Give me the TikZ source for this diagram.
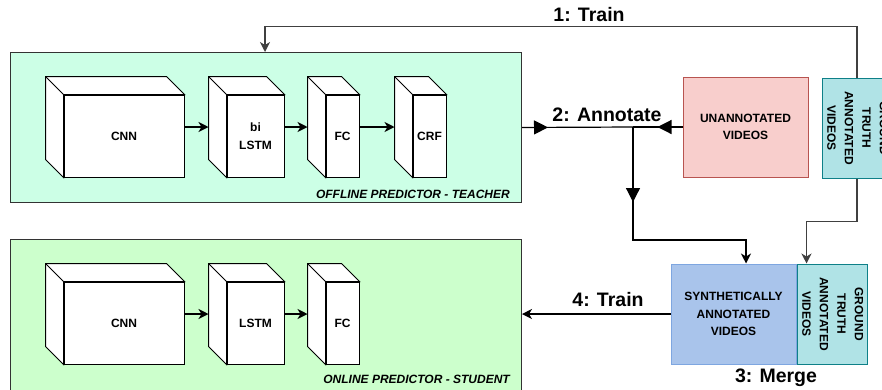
\documentclass[tikz,border=0pt]{standalone}
\usepackage{fontspec}
\setmainfont{Liberation Sans}
\usetikzlibrary{arrows.meta,decorations.markings}

\definecolor{tealfill}{HTML}{CCFFE6}
\definecolor{greenfill}{HTML}{CCFFCC}
\definecolor{redfill}{HTML}{F8CECC}
\definecolor{redline}{HTML}{B85450}
\definecolor{cyanfill}{HTML}{B0E3E6}
\definecolor{cyanline}{HTML}{0E8088}
\definecolor{bluefill}{HTML}{A9C4EB}
\definecolor{blueline}{HTML}{7EA6E0}

\tikzset{
  panel/.style={draw=black!80, line width=1pt, anchor=north west, inner sep=0pt},
  face/.style={draw, fill=white, line width=1pt, minimum height=82pt, inner sep=0pt, align=center, font=\fontsize{12}{17.5}\selectfont\bfseries},
  datbox/.style={line width=1pt, minimum width=125pt, minimum height=100pt, inner sep=0pt, align=center, font=\fontsize{12}{17.5}\selectfont\bfseries},
  gtbox/.style={fill=cyanfill, draw=cyanline, line width=1pt, minimum height=100pt, inner sep=0pt, font=\fontsize{12}{17.5}\selectfont\bfseries},
  arr/.style={line width=1.2pt, -{Stealth[length=10pt,width=10pt,inset=3pt]}},
  steplabel/.style={font=\fontsize{19.5}{20}\selectfont\bfseries, inner sep=0pt},
  tag/.style={font=\fontsize{12}{14}\selectfont\bfseries\itshape, inner sep=0pt, anchor=east},
  blk/.style={decoration={markings, mark=at position #1 with {\arrow{Triangle[length=14pt,width=14pt]}}}, postaction={decorate}}
}

\newcommand{\gttext}{\rotatebox{-90}{\begin{tabular}{@{}c@{}}GROUND\\TRUTH\\ANNOTATED\\VIDEOS\end{tabular}}}

\begin{document}
\begin{tikzpicture}[x=1pt, y=-1pt]

		\useasboundingbox (0,0) rectangle (882,389);
		\clip (0,0) rectangle (882,389);

		% the two predictors
		\node[panel, fill=tealfill, minimum width=511pt, minimum height=150pt] (teacher) at (10,52) {};
		\node[panel, fill=greenfill, minimum width=511pt, minimum height=153pt] (student) at (10,239) {};
		\node[tag] (t-tag) at ([shift={(-12,-9)}]teacher.south east) {OFFLINE PREDICTOR - TEACHER};
		\node[tag] (s-tag) at ([shift={(-12,-14)}]student.south east) {ONLINE PREDICTOR - STUDENT};

		\foreach \n / \x / \w / \t in {cnn/124/120/CNN, lstm/255.5/57/{bi\\LSTM}, fc/342.5/33/FC, crf/429.5/33/CRF} {
		\node[face, minimum width=\w pt] (t-\n) at (\x,136) {\t};
		\draw[fill=white, line width=1pt] (t-\n.south west) -- ++(-18,-18) |- ([shift={(-18,-18)}]t-\n.north east) -- (t-\n.north east) -- (t-\n.north west) -- cycle;
		\draw[line width=1pt] (t-\n.north west) -- ++(-18,-18);
		}

		\foreach \n / \x / \w / \t in {cnn/124/120/CNN, lstm/255.5/57/LSTM, fc/342.5/33/FC} {
		\node[face, minimum width=\w pt] (s-\n) at (\x,323) {\t};
		\draw[fill=white, line width=1pt] (s-\n.south west) -- ++(-18,-18) |- ([shift={(-18,-18)}]s-\n.north east) -- (s-\n.north east) -- (s-\n.north west) -- cycle;
		\draw[line width=1pt] (s-\n.north west) -- ++(-18,-18);
		}

		\foreach \a / \b / \lw in {cnn/lstm/2, lstm/fc/1.2, fc/crf/1.2} {
		\draw[arr, line width=\lw pt] ([shift={(0,-9)}]t-\a.east) -- ([shift={(-18,-9)}]t-\b.west);
		}
		\foreach \a / \b / \lw in {cnn/lstm/2, lstm/fc/1.2} {
		\draw[arr, line width=\lw pt] ([shift={(0,-9)}]s-\a.east) -- ([shift={(-18,-9)}]s-\b.west);
		}

		% videos
		\node[datbox, fill=redfill, draw=redline] (unann) at (745.5,127) {UNANNOTATED\\VIDEOS};
		\node[gtbox, minimum width=68pt] (gt1) at (857,128) {\gttext};
		\node[datbox, fill=bluefill, draw=blueline] (synth) at (733.5,314) {SYNTHETICALLY\\ANNOTATED\\VIDEOS};
		\node[gtbox, minimum width=70pt] (gt2) at (832,314) {\gttext};

		% steps
		\draw[arr, draw=black!75] (gt1.north) -- ++(0,-51) -| ([xshift=255pt]teacher.north west);
		\node[steplabel] (train1) at (589,15) {1: Train};

		\coordinate (jn) at (633,127);
		\draw[line width=1.2pt, blk=26pt] (teacher.east) -- (jn);
		\draw[line width=1.2pt, blk=25pt] (unann.west) -- (jn);
		\draw[arr, blk=75pt] (jn) -- ++(0,113) -| ([xshift=12.5pt]synth.north);
		\node[steplabel] (annotate) at (607,115) {2: Annotate};

		\draw[arr, draw=black!75] (gt1.south) -- ++(0,43) -| ([xshift=10pt]gt2.north west);
		\node[steplabel] (merge) at (776,378) {3: Merge};

		\draw[arr] (synth.west) -- (synth.west -| student.east);
		\node[steplabel] (train4) at (608,300) {4: Train};

	\end{tikzpicture}
\end{document}
